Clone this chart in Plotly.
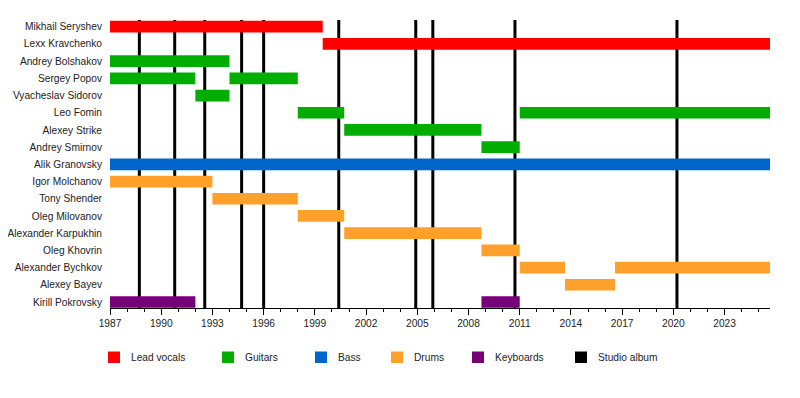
import plotly.graph_objects as go

# ---- data ----
members = ["Mikhail Seryshev", "Lexx Kravchenko", "Andrey Bolshakov", "Sergey Popov",
           "Vyacheslav Sidorov", "Leo Fomin", "Alexey Strike", "Andrey Smirnov",
           "Alik Granovsky", "Igor Molchanov", "Tony Shender", "Oleg Milovanov",
           "Alexander Karpukhin", "Oleg Khovrin", "Alexander Bychkov", "Alexey Bayev",
           "Kirill Pokrovsky"]

seg_member = ["Mikhail Seryshev", "Lexx Kravchenko",
              "Andrey Bolshakov", "Sergey Popov", "Sergey Popov", "Vyacheslav Sidorov",
              "Leo Fomin", "Leo Fomin", "Alexey Strike", "Andrey Smirnov",
              "Alik Granovsky",
              "Igor Molchanov", "Tony Shender", "Oleg Milovanov", "Alexander Karpukhin",
              "Oleg Khovrin", "Alexander Bychkov", "Alexander Bychkov", "Alexey Bayev",
              "Kirill Pokrovsky", "Kirill Pokrovsky"]
seg_start = [1987.0, 1999.46,
             1987.0, 1987.0, 1994.0, 1992.0,
             1998.0, 2011.0, 2000.72, 2008.76,
             1987.0,
             1987.0, 1993.0, 1998.0, 2000.72,
             2008.76, 2011.0, 2016.58, 2013.65,
             1987.0, 2008.76]
seg_end = [1999.46, 2025.66,
           1994.0, 1992.0, 1998.0, 1994.0,
           2000.72, 2025.66, 2008.76, 2011.0,
           2025.66,
           1993.0, 1998.0, 2000.72, 2008.76,
           2011.0, 2013.65, 2025.66, 2016.58,
           1992.0, 2011.0]
seg_role = ["Lead vocals", "Lead vocals",
            "Guitars", "Guitars", "Guitars", "Guitars",
            "Guitars", "Guitars", "Guitars", "Guitars",
            "Bass",
            "Drums", "Drums", "Drums", "Drums",
            "Drums", "Drums", "Drums", "Drums",
            "Keyboards", "Keyboards"]

album_years = [1988.72, 1990.79, 1992.55, 1994.71, 1996.0, 2000.40,
               2004.91, 2005.91, 2010.72, 2020.21]

roles = ["Lead vocals", "Guitars", "Bass", "Drums", "Keyboards"]
role_colors = {"Lead vocals": "#ff0000", "Guitars": "#00ad00", "Bass": "#0066cc",
               "Drums": "#ffa02a", "Keyboards": "#760078"}

x_start, x_end = 1987.0, 2025.66
tick_years = list(range(1987, 2025, 3))

# ---- figure ----
fig = go.Figure()
for role in roles:
    idx = [i for i, r in enumerate(seg_role) if r == role]
    fig.add_trace(go.Bar(
        orientation="h",
        y=[seg_member[i] for i in idx],
        base=[seg_start[i] for i in idx],
        x=[seg_end[i] - seg_start[i] for i in idx],
        marker=dict(color=role_colors[role], line=dict(width=0)),
        width=0.68,
        name=role,
        showlegend=False,
        hoverinfo="skip",
    ))

for yr in album_years:
    fig.add_shape(type="line", xref="x", yref="paper", x0=yr, x1=yr, y0=0, y1=1,
                  line=dict(color="black", width=3), layer="below")

# page offset (browser body margin)
OFF = 8
FW, FH = 800 - OFF, 398 - OFF
# plot area in page pixels
L, T, W, H = 110, 20, 660, 288
def px2x(px):
    return (px - L) / W
def py2y(py):
    return (T + H - py) / H

FS = 10.2
legend_items = roles + ["Studio album"]
legend_cols = list(role_colors.values()) + ["#000000"]
legend_px = [108, 222, 315, 391, 472, 575]
for name, col, px in zip(legend_items, legend_cols, legend_px):
    fig.add_shape(type="rect", xref="paper", yref="paper",
                  x0=px2x(px), x1=px2x(px + 12), y0=py2y(351.5), y1=py2y(363),
                  fillcolor=col, line=dict(width=0))
    fig.add_annotation(xref="paper", yref="paper", x=px2x(px + 22), y=py2y(357.5),
                       text=name, showarrow=False, xanchor="left", yanchor="middle",
                       xshift=-1, font=dict(size=FS, color="#222222"))

fig.update_layout(
    width=FW, height=FH,
    margin=dict(l=L - OFF, r=FW - (L - OFF) - W, t=T - OFF, b=FH - (T - OFF) - H,
                autoexpand=False),
    plot_bgcolor="white", paper_bgcolor="white",
    barmode="overlay",
    font=dict(family="Liberation Sans, Arial, sans-serif", size=FS, color="#222222"),
    xaxis=dict(range=[x_start, x_end], tickvals=tick_years,
               ticktext=[str(y) for y in tick_years],
               showgrid=False, zeroline=False, automargin=False,
               showline=True, linecolor="black", linewidth=1,
               ticks="outside", ticklen=6, tickcolor="black", tickwidth=1,
               minor=dict(dtick=1, tick0=1987, ticks="outside", ticklen=3,
                          tickcolor="black", showgrid=False),
               tickfont=dict(size=FS, color="#222222")),
    yaxis=dict(type="category", categoryorder="array", categoryarray=members,
               range=[16.35, -0.39], showgrid=False, zeroline=False, automargin=False,
               showline=False, ticks="", ticklabelstandoff=7,
               tickfont=dict(size=FS, color="#222222")),
)

fig.write_html("out.html")
